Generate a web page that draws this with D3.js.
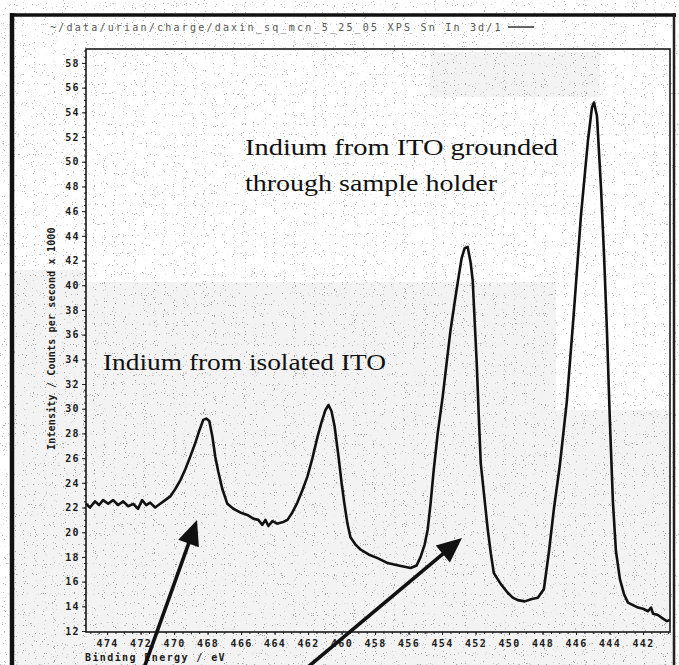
<!DOCTYPE html>
<html>
<head>
<meta charset="utf-8">
<script src="https://cdn.jsdelivr.net/npm/d3@7"></script>
<style>
  html, body { margin: 0; padding: 0; background: #fff; }
  svg { display: block; }
  .tick text { font-family: "DejaVu Sans Mono", monospace; font-weight: bold; font-size: 10px; letter-spacing: 1.4px; fill: #1a1a1a; }
  .mono { font-family: "DejaVu Sans Mono", monospace; font-weight: bold; font-size: 10px; letter-spacing: 1.4px; fill: #1a1a1a; }
  .note { font-family: "Liberation Serif", "Times New Roman", serif; font-size: 24px; fill: #111; }
</style>
</head>
<body>
<svg id="chart" width="679" height="665"></svg>
<script>
// In 3d spectrum (binding energy in eV, counts/s x 1000)
var energy = [475.26, 475.02, 474.72, 474.48, 474.24, 473.94, 473.64, 473.34, 473.04, 472.74,
  472.44, 472.15, 471.91, 471.67, 471.43, 471.13, 470.83, 470.53, 470.23, 469.93,
  469.63, 469.33, 469.04, 468.74, 468.50, 468.26, 468.08, 467.90, 467.72, 467.54,
  467.36, 467.12, 466.82, 466.46, 466.05, 465.63, 465.27, 464.97, 464.73, 464.55,
  464.37, 464.13, 463.83, 463.53, 463.23, 462.94, 462.64, 462.34, 462.04, 461.74,
  461.44, 461.20, 460.96, 460.78, 460.60, 460.42, 460.18, 460.00, 459.83, 459.65,
  459.47, 459.17, 458.87, 458.39, 457.85, 457.25, 456.60, 455.88, 455.52, 455.28,
  455.04, 454.86, 454.68, 454.50, 454.26, 453.96, 453.72, 453.49, 453.25, 453.01,
  452.83, 452.65, 452.47, 452.29, 452.17, 452.05, 451.93, 451.81, 451.69, 451.45,
  451.27, 451.09, 450.91, 450.49, 450.08, 449.78, 449.48, 449.06, 448.64, 448.28,
  447.92, 447.62, 447.33, 446.97, 446.55, 446.13, 445.71, 445.29, 445.05, 444.93,
  444.75, 444.51, 444.33, 444.16, 443.98, 443.80, 443.62, 443.38, 443.14, 442.90,
  442.60, 442.30, 442.00, 441.70, 441.52, 441.40, 441.11, 440.81, 440.57, 440.39];

var intensity = [22.3, 22.0, 22.5, 22.2, 22.6, 22.3, 22.6, 22.2, 22.5, 22.1,
  22.3, 21.9, 22.6, 22.2, 22.4, 22.0, 22.3, 22.6, 22.9, 23.5,
  24.2, 25.1, 26.1, 27.2, 28.2, 29.1, 29.2, 29.0, 27.8, 26.1,
  24.9, 23.5, 22.3, 21.9, 21.6, 21.4, 21.1, 21.0, 20.6, 21.0,
  20.5, 20.9, 20.7, 20.8, 21.0, 21.6, 22.4, 23.4, 24.5, 26.0,
  27.7, 28.9, 29.9, 30.3, 29.8, 28.6, 26.1, 24.0, 22.3, 20.7,
  19.6, 19.0, 18.6, 18.2, 17.9, 17.5, 17.3, 17.1, 17.3, 18.0,
  19.0, 20.2, 22.4, 25.0, 28.0, 31.0, 33.8, 36.4, 38.6, 40.7,
  42.2, 43.0, 43.1, 41.8, 40.4, 37.0, 33.7, 29.5, 25.6, 22.5,
  20.2, 18.3, 16.7, 15.8, 15.1, 14.7, 14.5, 14.4, 14.6, 14.7,
  15.4, 18.4, 21.8, 25.4, 30.6, 37.8, 45.6, 51.7, 54.4, 54.8,
  53.7, 47.9, 42.5, 36.5, 29.0, 22.5, 18.5, 16.2, 15.0, 14.3,
  14.1, 13.9, 13.8, 13.6, 13.9, 13.4, 13.3, 13.0, 12.8, 12.9];

var xTicks = [474, 472, 470, 468, 466, 464, 462, 460, 458, 456, 454, 452, 450, 448, 446, 444, 442];
var yTicks = [12, 14, 16, 18, 20, 22, 24, 26, 28, 30, 32, 34, 36, 38, 40, 42, 44, 46, 48, 50, 52, 54, 56, 58];

var title = "~/data/urian/charge/daxin_sq_mcn_5_25_05 XPS Sn In 3d/1";
var xLabel = "Binding Energy / eV";
var yLabel = "Intensity / Counts per second x 1000";

var svg = d3.select("#chart");
var mLeft = 86, mRight = 670, mTop = 49, mBottom = 632;

// scanner speckle, just a texture
var defs = svg.append("defs");
var f = defs.append("filter").attr("id", "speck").attr("x", 0).attr("y", 0).attr("width", 1).attr("height", 1);
f.append("feTurbulence").attr("type", "fractalNoise").attr("baseFrequency", 0.9).attr("numOctaves", 1).attr("seed", 7);
f.append("feColorMatrix").attr("type", "matrix")
  .attr("values", "0 0 0 0 0  0 0 0 0 0  0 0 0 0 0  16 0 0 0 -10.6");

svg.append("rect").attr("width", 679).attr("height", 665).attr("fill", "#fff");
svg.append("rect").attr("width", 679).attr("height", 665).attr("filter", "url(#speck)").attr("opacity", 0.3);
[[15, 270, 71, 395], [86, 282, 470, 350], [86, 632, 590, 33], [556, 410, 114, 222], [430, 52, 170, 45]].forEach(function(r) {
  svg.append("rect").attr("x", r[0]).attr("y", r[1]).attr("width", r[2]).attr("height", r[3])
    .attr("fill", "#f3f3f3");
  svg.append("rect").attr("x", r[0]).attr("y", r[1]).attr("width", r[2]).attr("height", r[3])
    .attr("filter", "url(#speck)").attr("opacity", 0.35);
});

var x = d3.scaleLinear().domain([475.26, 440.39]).range([mLeft, mRight]);
var y = d3.scaleLinear().domain([11.92, 59.13]).range([mBottom, mTop]);

// outer scan border
svg.append("line").attr("x1", 12).attr("x2", 12).attr("y1", 13).attr("y2", 665)
  .attr("stroke", "#111").attr("stroke-width", 4.5);
svg.append("line").attr("x1", 10).attr("x2", 676).attr("y1", 15).attr("y2", 15)
  .attr("stroke", "#111").attr("stroke-width", 3.5);
svg.append("line").attr("x1", 674).attr("x2", 674).attr("y1", 13).attr("y2", 665)
  .attr("stroke", "#222").attr("stroke-width", 2.5);

// header line with legend stroke
svg.append("text").attr("class", "mono").attr("x", 50).attr("y", 31)
  .style("fill", "#555").style("font-weight", "normal")
  .attr("textLength", 452).text(title);
svg.append("line").attr("x1", 508).attr("x2", 534).attr("y1", 27).attr("y2", 27)
  .attr("stroke", "#333").attr("stroke-width", 1.5);

// axes
var gy = svg.append("g").attr("transform", "translate(" + mLeft + ",0)")
  .call(d3.axisLeft(y).tickValues(d3.range(12, 59.01, 0.5)).tickSize(2).tickFormat(""));
gy.append("g").call(d3.axisLeft(y).tickValues(yTicks).tickSize(4).tickPadding(2));
var gx = svg.append("g").attr("transform", "translate(0," + mBottom + ")")
  .call(d3.axisBottom(x).tickValues(d3.range(475, 440.4, -0.5)).tickSize(2).tickFormat(""));
gx.append("g").call(d3.axisBottom(x).tickValues(xTicks).tickSize(3).tickPadding(5));
svg.selectAll(".domain").remove();
svg.selectAll(".tick line").attr("stroke", "#222");

svg.append("rect").attr("x", mLeft).attr("y", mTop).attr("width", mRight - mLeft).attr("height", mBottom - mTop)
  .attr("fill", "none").attr("stroke", "#1a1a1a").attr("stroke-width", 1.6);

svg.append("text").attr("class", "mono").attr("x", 85).attr("y", 661).text(xLabel);
svg.append("text").attr("class", "mono")
  .attr("transform", "translate(55,338) rotate(-90)")
  .attr("text-anchor", "middle").attr("textLength", 224).text(yLabel);

// spectrum
var line = d3.line().x(function(d, i) { return x(energy[i]); }).y(function(d) { return y(d); });
svg.append("path").datum(intensity).attr("d", line)
  .attr("fill", "none").attr("stroke", "#111").attr("stroke-width", 2.6).attr("stroke-linejoin", "round");

// hand annotations
svg.append("text").attr("class", "note").attr("x", 245).attr("y", 155)
  .attr("textLength", 313).attr("lengthAdjust", "spacingAndGlyphs").text("Indium from ITO grounded");
svg.append("text").attr("class", "note").attr("x", 245).attr("y", 191)
  .attr("textLength", 252).attr("lengthAdjust", "spacingAndGlyphs").text("through sample holder");
svg.append("text").attr("class", "note").attr("x", 103).attr("y", 370)
  .attr("textLength", 283).attr("lengthAdjust", "spacingAndGlyphs").text("Indium from isolated ITO");

function arrow(x0, y0, x1, y1) {
  var dx = x1 - x0, dy = y1 - y0, len = Math.sqrt(dx * dx + dy * dy);
  var ux = dx / len, uy = dy / len, L = 25, W = 11;
  var bx = x1 - ux * L, by = y1 - uy * L;
  svg.append("line").attr("x1", x0).attr("y1", y0).attr("x2", bx + ux * 4).attr("y2", by + uy * 4)
    .attr("stroke", "#111").attr("stroke-width", 3.6);
  svg.append("path")
    .attr("d", "M" + x1 + "," + y1 + "L" + (bx - uy * W) + "," + (by + ux * W) +
      "L" + (bx + uy * W) + "," + (by - ux * W) + "Z")
    .attr("fill", "#111");
}
arrow(139, 682, 197, 520);
arrow(290, 682, 462, 538);
</script>
</body>
</html>
